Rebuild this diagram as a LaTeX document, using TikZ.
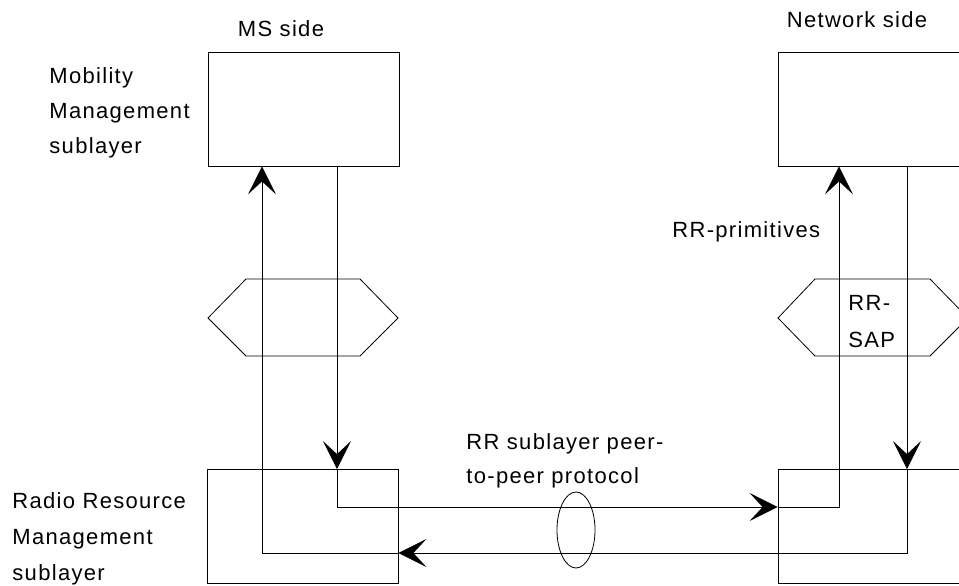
\documentclass[tikz,border=0pt]{standalone}
\usepackage{fontspec}
\setmainfont{Liberation Sans}[LetterSpace=6]
\usetikzlibrary{arrows.meta,shapes.geometric}
\newlength{\du}
\setlength{\du}{1pt}

\begin{document}
\begin{tikzpicture}[
  layerbox/.style={draw, minimum width=191\du, minimum height=114\du, inner sep=0pt},
  sapring/.style={draw, ellipse, minimum width=38\du, minimum height=76\du, inner sep=0pt},
  lbl/.style={anchor=base west, inner sep=0pt, font=\fontsize{22}{22}\selectfont},
  flow/.style={-{Stealth[length=28pt,width=28pt,inset=13pt]}},
]
\pgftransformxscale{1.000000}
\pgftransformyscale{-1.000000}
\definecolor{dialinecolor}{rgb}{0.000000, 0.000000, 0.000000}
\pgfsetstrokecolor{dialinecolor}
\pgfsetlinewidth{0.800000\du}
\fill[white] (0.000000\du,0.000000\du) rectangle (959.000000\du,586.000000\du);
\useasboundingbox (0.000000\du,0.000000\du) rectangle (959.000000\du,586.000000\du);
% layers
\node[layerbox] (mmms) at (303.500000\du,109.000000\du) {};
\node[layerbox] (mmnet) at (873.500000\du,109.000000\du) {};
\node[layerbox] (rrms) at (302.500000\du,526.500000\du) {};
\node[layerbox] (rrnet) at (873.500000\du,526.500000\du) {};
% service access points
\draw (208.000000\du,318.000000\du)--(246.000000\du,279.000000\du)--(360.000000\du,279.000000\du)--(398.000000\du,318.000000\du)--(360.000000\du,356.000000\du)--(246.000000\du,356.000000\du)--cycle;
\draw (778.000000\du,318.000000\du)--(815.000000\du,279.000000\du)--(930.000000\du,279.000000\du)--(968.000000\du,318.000000\du)--(930.000000\du,356.000000\du)--(815.000000\du,356.000000\du)--cycle;
\node[sapring] (peer) at (576.000000\du,530.000000\du) {};
% primitives MS -> network
\coordinate (atop) at (337.000000\du,166.000000\du);
\coordinate (ain) at (atop |- rrms.north);
\coordinate (abend) at (337.000000\du,507.000000\du);
\coordinate (aout) at (abend -| rrnet.west);
\coordinate (aup) at (839.000000\du,507.000000\du);
\coordinate (aend) at (aup |- mmnet.south);
\draw[flow] (atop)--(ain);
\draw[flow] (ain)--(abend)--(aout);
\draw[flow] (aout)--(aup)--(aend);
% primitives network -> MS
\coordinate (btop) at (907.000000\du,166.000000\du);
\coordinate (bin) at (btop |- rrnet.north);
\coordinate (bbend) at (907.000000\du,553.000000\du);
\coordinate (bout) at (bbend -| rrms.east);
\coordinate (bup) at (262.000000\du,553.000000\du);
\coordinate (bend) at (bup |- mmms.south);
\draw[flow] (btop)--(bin);
\draw[flow] (bin)--(bbend)--(bout);
\draw[flow] (bout)--(bup)--(bend);
% texts
\node[lbl, anchor=base] (msside) at (281.000000\du,37.000000\du) {MS side};
\node[lbl, anchor=base] (netside) at (857.000000\du,28.000000\du) {Network side};
\node[lbl] (mm1) at (49.000000\du,84.000000\du) {Mobility};
\node[lbl] (mm2) at (49.000000\du,118.000000\du) {Management};
\node[lbl] (mm3) at (49.000000\du,153.000000\du) {sublayer};
\node[lbl] (rrprim) at (672.000000\du,237.000000\du) {RR-primitives};
\node[lbl] (sap1) at (848.000000\du,310.000000\du) {RR-};
\node[lbl] (sap2) at (848.000000\du,347.000000\du) {SAP};
\node[lbl] (peer1) at (466.000000\du,449.000000\du) {RR sublayer peer-};
\node[lbl] (peer2) at (466.000000\du,483.000000\du) {to-peer protocol};
\node[lbl] (rr1) at (12.000000\du,508.000000\du) {Radio Resource};
\node[lbl] (rr2) at (12.000000\du,544.000000\du) {Management};
\node[lbl] (rr3) at (12.000000\du,580.000000\du) {sublayer};
\end{tikzpicture}
\end{document}
